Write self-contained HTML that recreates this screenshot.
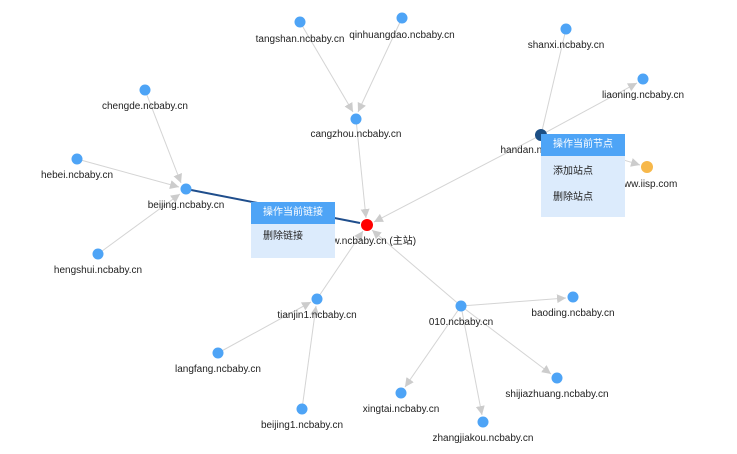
<!DOCTYPE html>
<html><head><meta charset="utf-8"><style>
body{margin:0;background:#fff;width:737px;height:454px;overflow:hidden;font-family:"Liberation Sans","Noto Sans CJK SC",sans-serif}
svg{position:absolute;left:0;top:0}
text{font-size:10px;fill:#222;font-family:"Liberation Sans","Noto Sans CJK SC",sans-serif}
.m{position:absolute;background:#dcebfc;font-size:10px;color:#222}
.m .h{background:#4ea4f6;color:#fff;padding-left:12px;line-height:22px;height:22px}
.m .i{padding-left:12px;line-height:26px}
</style></head><body>
<svg width="737" height="454">
<defs><marker id="a" viewBox="0 0 10 10" refX="10" refY="5" markerWidth="9" markerHeight="9" orient="auto" markerUnits="userSpaceOnUse"><path d="M0,0L10,5L0,10z" fill="#ccc"/></marker></defs>
<g stroke="#d4d4d4" stroke-width="1" marker-end="url(#a)">
<line x1="300" y1="22" x2="353" y2="112"/>
<line x1="402" y1="18" x2="358" y2="112"/>
<line x1="356" y1="119" x2="366" y2="218"/>
<line x1="541" y1="135" x2="374" y2="222"/>
<line x1="541" y1="135" x2="637" y2="83"/>
<line x1="541" y1="135" x2="640" y2="165"/>
<line x1="145" y1="90" x2="181" y2="183"/>
<line x1="77" y1="159" x2="179" y2="187"/>
<line x1="98" y1="254" x2="180" y2="194"/>
<line x1="317" y1="299" x2="363" y2="231"/>
<line x1="461" y1="306" x2="372" y2="230"/>
<line x1="218" y1="353" x2="311" y2="302"/>
<line x1="302" y1="409" x2="316" y2="306"/>
<line x1="461" y1="306" x2="566" y2="298"/>
<line x1="461" y1="306" x2="551" y2="374"/>
<line x1="461" y1="306" x2="405" y2="387"/>
<line x1="461" y1="306" x2="482" y2="415"/>
</g>
<line x1="566" y1="29" x2="541" y2="135" stroke="#d4d4d4"/>
<line x1="186" y1="189" x2="360" y2="223" stroke="#1f4e8c" stroke-width="2"/>
<g fill="#4ea4f6">
<circle cx="300" cy="22" r="5.5"/><circle cx="402" cy="18" r="5.5"/><circle cx="356" cy="119" r="5.5"/>
<circle cx="566" cy="29" r="5.5"/><circle cx="643" cy="79" r="5.5"/>
<circle cx="145" cy="90" r="5.5"/><circle cx="77" cy="159" r="5.5"/><circle cx="186" cy="189" r="5.5"/><circle cx="98" cy="254" r="5.5"/>
<circle cx="317" cy="299" r="5.5"/><circle cx="218" cy="353" r="5.5"/><circle cx="302" cy="409" r="5.5"/>
<circle cx="461" cy="306" r="5.5"/><circle cx="573" cy="297" r="5.5"/><circle cx="557" cy="378" r="5.5"/><circle cx="401" cy="393" r="5.5"/><circle cx="483" cy="422" r="5.5"/>
</g>
<circle cx="541" cy="135" r="6" fill="#1c4f85"/>
<circle cx="647" cy="167" r="6" fill="#f7b84a"/>
<circle cx="367" cy="225" r="6" fill="#f00"/>
<g text-anchor="middle">
<text x="300" y="42">tangshan.ncbaby.cn</text>
<text x="402" y="38">qinhuangdao.ncbaby.cn</text>
<text x="356" y="137">cangzhou.ncbaby.cn</text>
<text x="566" y="48">shanxi.ncbaby.cn</text>
<text x="643" y="98">liaoning.ncbaby.cn</text>
<text x="541" y="153">handan.ncbaby.cn</text>
<text x="647" y="187">www.iisp.com</text>
<text x="145" y="109">chengde.ncbaby.cn</text>
<text x="77" y="178">hebei.ncbaby.cn</text>
<text x="186" y="208">beijing.ncbaby.cn</text>
<text x="98" y="273">hengshui.ncbaby.cn</text>
<text x="367" y="244">www.ncbaby.cn (主站)</text>
<text x="317" y="318">tianjin1.ncbaby.cn</text>
<text x="218" y="372">langfang.ncbaby.cn</text>
<text x="302" y="428">beijing1.ncbaby.cn</text>
<text x="461" y="325">010.ncbaby.cn</text>
<text x="573" y="316">baoding.ncbaby.cn</text>
<text x="557" y="397">shijiazhuang.ncbaby.cn</text>
<text x="401" y="412">xingtai.ncbaby.cn</text>
<text x="483" y="441">zhangjiakou.ncbaby.cn</text>
</g>
</svg>
<div class="m" style="left:251px;top:202px;width:84px;height:56px"><div class="h">操作当前链接</div><div class="i">删除链接</div></div>
<div class="m" style="left:541px;top:134px;width:84px;height:83px"><div class="h">操作当前节点</div><div class="i" style="margin-top:3px">添加站点</div><div class="i">删除站点</div></div>
</body></html>
